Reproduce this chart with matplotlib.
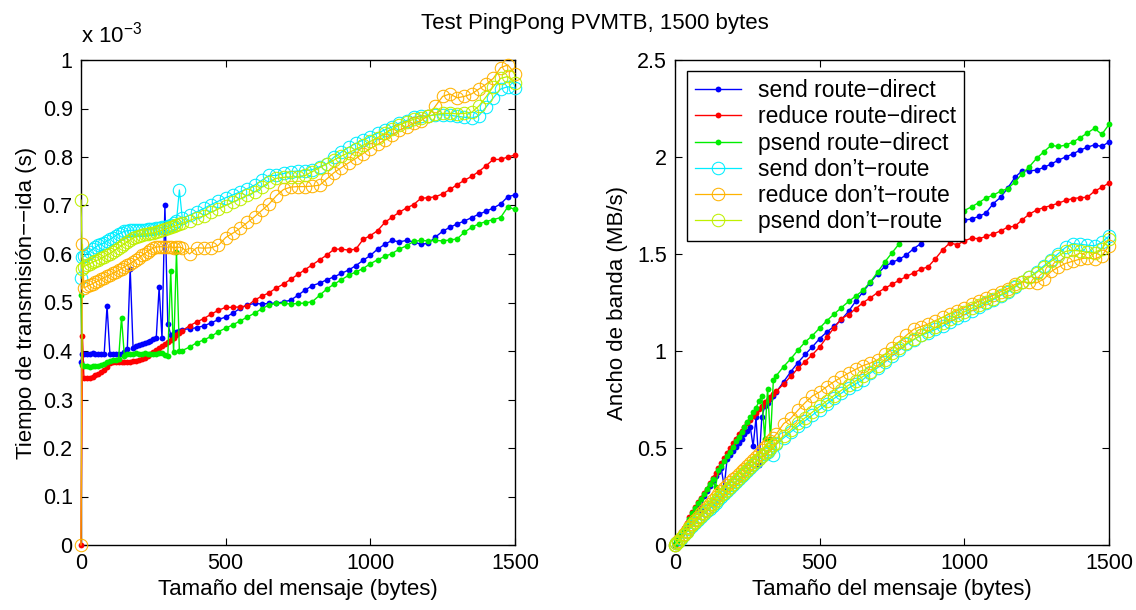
import numpy as np
import matplotlib
matplotlib.use('Agg')
import matplotlib.pyplot as plt
from matplotlib.ticker import FuncFormatter

plt.rcParams['font.family'] = ['Liberation Sans', 'DejaVu Sans']
plt.rcParams['mathtext.fontset'] = 'custom'
plt.rcParams['mathtext.rm'] = 'Liberation Sans'
plt.rcParams['axes.unicode_minus'] = True

#====================================================================================================
# message sizes (bytes): dense at the start, then every 25 bytes
sizes = np.concatenate(([0, 5], np.arange(10, 351, 10), np.arange(375, 1501, 25)))

# round trip time, in units of 1e-3 s
send_rd = [0.377, 0.394, 0.394, 0.394, 0.394, 0.395, 0.394, 0.393, 0.394, 0.393,
           0.493, 0.393, 0.394, 0.394, 0.393, 0.394, 0.397, 0.404, 0.570, 0.406,
           0.410, 0.412, 0.414, 0.417, 0.419, 0.421, 0.424, 0.426, 0.531, 0.426,
           0.701, 0.456, 0.434, 0.437, 0.439, 0.442, 0.444,
           0.446, 0.448, 0.452, 0.458, 0.465, 0.470, 0.478, 0.488, 0.495, 0.498,
           0.497, 0.498, 0.499, 0.501, 0.505, 0.515, 0.526, 0.535, 0.540, 0.547,
           0.553, 0.560, 0.567, 0.576, 0.587, 0.597, 0.610, 0.620, 0.628, 0.625,
           0.628, 0.625, 0.620, 0.622, 0.635, 0.647, 0.655, 0.662, 0.668, 0.675,
           0.682, 0.688, 0.695, 0.703, 0.718, 0.722]

reduce_rd = [0.0, 0.431, 0.345, 0.344, 0.345, 0.347, 0.350, 0.353, 0.356, 0.360,
             0.368, 0.376, 0.378, 0.377, 0.378, 0.378, 0.377, 0.378, 0.378, 0.379,
             0.380, 0.382, 0.384, 0.386, 0.390, 0.394, 0.398, 0.402, 0.406, 0.410,
             0.414, 0.418, 0.422, 0.427, 0.432, 0.437, 0.442,
             0.452, 0.460, 0.467, 0.476, 0.484, 0.490, 0.490, 0.491, 0.493, 0.505,
             0.513, 0.520, 0.530, 0.538, 0.548, 0.558, 0.568, 0.578, 0.588, 0.598,
             0.610, 0.610, 0.608, 0.610, 0.630, 0.638, 0.648, 0.665, 0.676, 0.686,
             0.695, 0.702, 0.715, 0.716, 0.718, 0.724, 0.733, 0.743, 0.752, 0.760,
             0.770, 0.782, 0.795, 0.795, 0.800, 0.804]

psend_rd = [0.515, 0.372, 0.370, 0.369, 0.368, 0.369, 0.370, 0.369, 0.371, 0.373,
            0.377, 0.380, 0.381, 0.382, 0.384, 0.469, 0.389, 0.393, 0.394, 0.394,
            0.395, 0.394, 0.393, 0.395, 0.394, 0.393, 0.394, 0.394, 0.395, 0.396,
            0.392, 0.390, 0.565, 0.397, 0.605, 0.399, 0.401,
            0.408, 0.417, 0.423, 0.430, 0.440, 0.447, 0.454, 0.462, 0.470, 0.478,
            0.487, 0.495, 0.498, 0.498, 0.497, 0.498, 0.499, 0.502, 0.515, 0.528,
            0.538, 0.547, 0.556, 0.563, 0.570, 0.580, 0.588, 0.595, 0.601, 0.610,
            0.617, 0.626, 0.628, 0.627, 0.628, 0.627, 0.629, 0.631, 0.645, 0.655,
            0.662, 0.667, 0.671, 0.675, 0.697, 0.692]

send_dr = [0.550, 0.594, 0.595, 0.600, 0.605, 0.610, 0.614, 0.618, 0.620, 0.623,
           0.627, 0.630, 0.634, 0.638, 0.641, 0.644, 0.647, 0.648, 0.649, 0.649,
           0.649, 0.649, 0.650, 0.650, 0.651, 0.652, 0.652, 0.653, 0.654, 0.655,
           0.656, 0.657, 0.660, 0.664, 0.668, 0.732, 0.674,
           0.680, 0.687, 0.694, 0.702, 0.709, 0.716, 0.722, 0.728, 0.735, 0.742,
           0.752, 0.762, 0.762, 0.766, 0.770, 0.771, 0.772, 0.774, 0.780, 0.786,
           0.800, 0.810, 0.820, 0.828, 0.835, 0.842, 0.849, 0.856, 0.862, 0.870,
           0.875, 0.882, 0.884, 0.885, 0.887, 0.887, 0.886, 0.884, 0.882, 0.880,
           0.885, 0.903, 0.922, 0.940, 0.945, 0.942]

reduce_dr = [0.0, 0.620, 0.530, 0.533, 0.536, 0.539, 0.542, 0.545, 0.548, 0.551,
             0.554, 0.557, 0.560, 0.563, 0.566, 0.570, 0.573, 0.577, 0.580, 0.584,
             0.588, 0.592, 0.597, 0.601, 0.605, 0.609, 0.612, 0.614, 0.615, 0.615,
             0.615, 0.614, 0.615, 0.613, 0.614, 0.614, 0.613,
             0.600, 0.613, 0.612, 0.613, 0.618, 0.634, 0.643, 0.653, 0.665, 0.677,
             0.690, 0.703, 0.720, 0.733, 0.738, 0.739, 0.739, 0.740, 0.742, 0.755,
             0.768, 0.778, 0.788, 0.797, 0.807, 0.817, 0.826, 0.835, 0.845, 0.855,
             0.862, 0.870, 0.875, 0.885, 0.905, 0.925, 0.930, 0.922, 0.925, 0.930,
             0.940, 0.950, 0.962, 0.984, 0.990, 0.972]

psend_dr = [0.711, 0.570, 0.574, 0.577, 0.580, 0.583, 0.586, 0.588, 0.591, 0.594,
            0.598, 0.601, 0.605, 0.609, 0.613, 0.617, 0.621, 0.625, 0.629, 0.633,
            0.636, 0.638, 0.640, 0.641, 0.642, 0.643, 0.643, 0.645, 0.647, 0.649,
            0.651, 0.653, 0.655, 0.657, 0.659, 0.661, 0.663,
            0.669, 0.675, 0.678, 0.686, 0.693, 0.700, 0.707, 0.714, 0.721, 0.728,
            0.738, 0.748, 0.756, 0.758, 0.759, 0.759, 0.762, 0.770, 0.778, 0.786,
            0.794, 0.802, 0.809, 0.816, 0.824, 0.832, 0.840, 0.849, 0.857, 0.866,
            0.872, 0.878, 0.881, 0.884, 0.888, 0.890, 0.890, 0.889, 0.890, 0.892,
            0.905, 0.924, 0.945, 0.962, 0.966, 0.952]

labels = ['send route\u2212direct', 'reduce route\u2212direct', 'psend route\u2212direct',
          'send don\u2019t\u2212route', 'reduce don\u2019t\u2212route', 'psend don\u2019t\u2212route']
#====================================================================================================

series = [send_rd, reduce_rd, psend_rd, send_dr, reduce_dr, psend_dr]
colors = ['#0000ff', '#ff0000', '#00ee00', '#00eeff', '#ffb300', '#bff000']

fig = plt.figure(figsize=(11.36, 6.10), dpi=100)
ax1 = fig.add_axes([81 / 1136, 65 / 610, 434 / 1136, 485 / 610])
ax2 = fig.add_axes([675 / 1136, 65 / 610, 434 / 1136, 485 / 610])

for i, t in enumerate(series):
    t = np.asarray(t)
    # bandwidth in MB/s: bytes / (t * 1e-3 s) / 1e6
    bw = np.divide(sizes, t * 1000.0, out=np.zeros(len(t)), where=t > 0)
    if i < 3:
        style = dict(marker='o', markersize=4.2, markeredgewidth=0, linewidth=1.0)
    else:
        style = dict(marker='o', markersize=9, markerfacecolor='none',
                     markeredgewidth=0.75, linewidth=0.9)
    ax1.plot(sizes, t, color=colors[i], label=labels[i], clip_on=False, **style)
    ax2.plot(sizes, bw, color=colors[i], label=labels[i], clip_on=False, **style)

fmt = FuncFormatter(lambda v, p: '%g' % round(v, 2))

for ax in (ax1, ax2):
    ax.set_xlim(0, 1500)
    ax.set_xticks([0, 500, 1000, 1500])
    ax.tick_params(direction='in', top=True, right=True, length=5, width=0.8,
                   labelsize=15.5, pad=6)
    ax.yaxis.set_major_formatter(fmt)
    for s in ax.spines.values():
        s.set_linewidth(1.0)
        s.set_zorder(0.5)
    ax.set_xlabel('Tama\u00f1o del mensaje (bytes)', fontsize=16, labelpad=3)

ax1.set_ylim(0, 1)
ax1.set_yticks(np.arange(0, 1.01, 0.1))
ax1.set_ylabel('Tiempo de transmisi\u00f3n\u2212\u2212ida (s)', fontsize=16, labelpad=4)
ax1.text(0.0, 1.025, r'x 10$^{\mathregular{-3}}$', transform=ax1.transAxes,
         fontsize=16, ha='left', va='bottom')

ax2.set_ylim(0, 2.5)
ax2.set_yticks([0, 0.5, 1, 1.5, 2, 2.5])
ax2.set_ylabel('Ancho de banda (MB/s)', fontsize=16, labelpad=6)

leg = ax2.legend(loc='upper left', bbox_to_anchor=(0.027, 0.977), borderaxespad=0,
                 fontsize=16.5, fancybox=False, framealpha=1, edgecolor='black',
                 handlelength=2.0, handletextpad=0.75, labelspacing=0.14,
                 borderpad=0.35)
leg.get_frame().set_linewidth(1.0)
leg.set_zorder(5)

fig.text(595 / 1136, 1 - 29 / 610, 'Test PingPong PVMTB, 1500 bytes', fontsize=16,
         ha='center', va='baseline')

fig.savefig('out.png', dpi=100)
